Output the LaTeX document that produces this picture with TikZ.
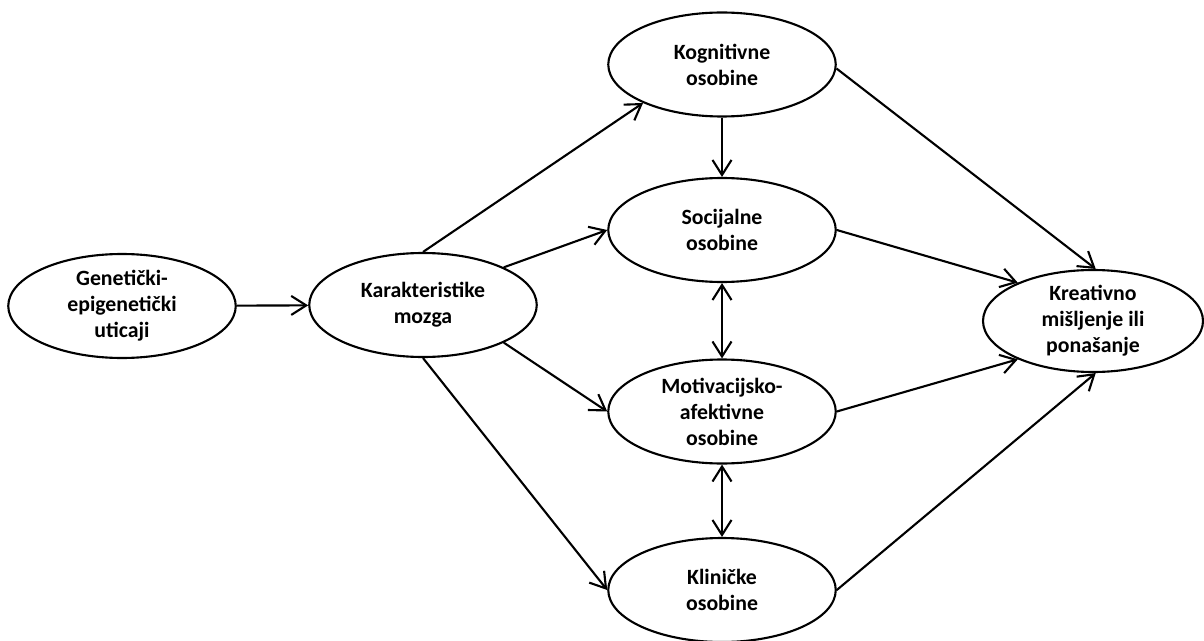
\documentclass[tikz,border=0pt]{standalone}
\usepackage{fontspec}
\setmainfont{Carlito}
\usepackage{tikz}
\usetikzlibrary{arrows.meta,shapes.geometric}

\begin{document}
\begin{tikzpicture}[
  oval/.style={draw, ellipse, line width=1.2pt, align=center,
               font=\fontsize{12.4}{14.8}\selectfont\bfseries,
               minimum width=4.55cm, minimum height=2.08cm,
               inner xsep=0pt, inner ysep=-3mm},
  arr/.style={line width=1.2pt, -{Straight Barb[length=3mm,width=3.8mm]}},
  darr/.style={line width=1.2pt, {Straight Barb[length=3mm,width=3.8mm]}-{Straight Barb[length=3mm,width=3.8mm]}}]
\useasboundingbox (0,0) rectangle (24.08,-12.82);
\node[oval] (gen) at (2.44,-6.12) {Genetički-\\epigenetički\\uticaji};
\node[oval] (mozak) at (8.46,-6.10) {Karakteristike\\mozga};
\node[oval] (kog) at (14.44,-1.29) {Kognitivne\\osobine};
\node[oval] (soc) at (14.44,-4.60) {Socijalne\\osobine};
\node[oval] (mot) at (14.44,-8.23) {Motivacijsko-\\afektivne\\osobine};
\node[oval] (kli) at (14.44,-11.80) {Kliničke\\osobine};
\node[oval, minimum width=4.4cm, minimum height=2.04cm] (kre) at (21.86,-6.42) {Kreativno\\mišljenje ili\\ponašanje};
\draw[arr] (gen) -- (mozak);
\draw[arr] (mozak.north) -- (kog.206);
\draw[arr] (mozak.25) -- (soc.west);
\draw[arr] (mozak.335) -- (mot.west);
\draw[arr] (mozak.south) -- (kli.west);
\draw[arr] (kog) -- (soc);
\foreach \a/\b in {soc/mot,mot/kli}
  \draw[darr] (\a) -- (\b);
\draw[arr] (kog.-2) -- (kre.87);
\draw[arr] (soc.east) -- (kre.153);
\draw[arr] (mot.east) -- (kre.207);
\draw[arr] (kli.east) -- (kre.273);
\end{tikzpicture}
\end{document}
